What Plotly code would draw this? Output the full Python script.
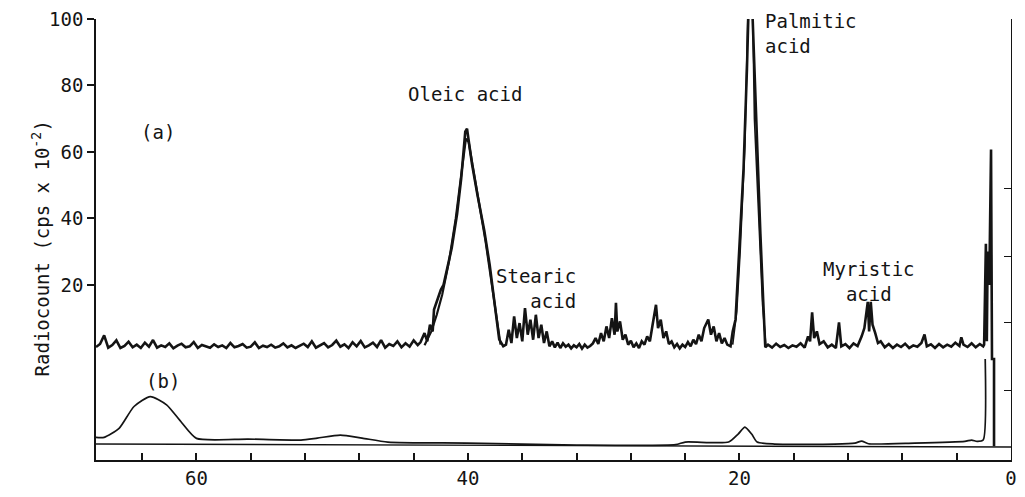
import plotly.graph_objects as go

# ---- trace (a): radio-chromatogram (retention, radiocount) ----
a_base1_x = [67.4, 67.1, 66.8, 66.5, 66.2, 65.9, 65.6, 65.3, 65.0, 64.7,
             64.4, 64.1, 63.8, 63.5, 63.2, 62.9, 62.6, 62.3, 62.0, 61.7,
             61.4, 61.1, 60.8, 60.5, 60.2, 59.9, 59.6, 59.3, 59.0, 58.7,
             58.4, 58.1, 57.8, 57.5, 57.2, 56.9, 56.6, 56.3, 56.0, 55.7,
             55.4, 55.1, 54.8, 54.5, 54.2, 53.9, 53.6, 53.3, 53.0, 52.7,
             52.4, 52.1, 51.8, 51.5, 51.2, 50.9, 50.6, 50.3, 50.0, 49.7,
             49.4, 49.1, 48.8, 48.5, 48.2, 47.9, 47.6, 47.3, 47.0, 46.7,
             46.4, 46.1, 45.8, 45.5, 45.2, 44.9, 44.6, 44.3, 44.0, 43.7]
a_base1_y = [1.3, 2.2, 4.8, 1.1, 1.9, 3.3, 1.0, 1.6, 2.9, 1.2,
             2.0, 1.0, 2.6, 1.4, 3.4, 1.1, 1.8, 1.3, 2.4, 0.9,
             1.7, 2.3, 1.2, 1.5, 2.8, 1.0, 1.9, 1.4, 1.1, 2.1,
             1.3, 1.8, 1.0, 2.5, 1.2, 1.6, 2.2, 1.1, 1.4, 2.7,
             1.0, 1.7, 1.3, 2.0, 1.1, 1.5, 2.4, 1.2, 1.8, 1.0,
             1.6, 2.3, 1.3, 3.0, 1.1, 1.7, 2.5, 1.2, 1.9, 3.2,
             1.4, 2.1, 1.0, 2.7, 1.5, 3.1, 1.2, 1.8, 2.6, 1.3,
             3.4, 1.1, 2.2, 1.6, 3.0, 1.2, 2.4, 1.4, 3.3, 1.9]

oleic_x = [43.5, 43.2, 43.0, 42.8, 42.6, 42.5, 42.2, 42.0, 41.8, 41.5, 41.2, 40.8, 40.5, 40.2, 40.07,
           39.9, 39.7, 39.3, 38.8, 38.4, 38.1, 37.9, 37.7, 37.4]
oleic_y = [2.7, 5.5, 3.0, 8.0, 6.0, 12.6, 16.0, 18.5, 20.0, 25.4, 31.0, 41.4, 52.0, 66.1, 67.0,
           62.0, 56.3, 47.0, 36.4, 26.0, 16.4, 9.0, 3.6, 1.55]

a_mid_x = [37.2, 37.0, 36.8, 36.6, 36.4, 36.2, 36.0, 35.8, 35.6, 35.4, 35.2, 35.0, 34.8, 34.6, 34.4,
           34.2, 34.0, 33.8, 33.6, 33.4, 33.2, 33.0, 32.8, 32.6, 32.4, 32.2, 32.0, 31.8, 31.6, 31.4,
           31.2, 31.0, 30.8, 30.6, 30.4, 30.2, 30.0, 29.8, 29.6, 29.4, 29.2, 29.1, 29.0, 28.8, 28.6,
           28.4, 28.2, 28.0, 27.8, 27.6, 27.4, 27.2, 27.0, 26.8, 26.6, 26.4, 26.15, 26.0, 25.8, 25.6,
           25.4, 25.2, 25.0, 24.8, 24.6, 24.4, 24.2, 24.0, 23.8, 23.6, 23.4, 23.2, 23.0, 22.8, 22.6,
           22.3, 22.1, 21.9, 21.7, 21.5, 21.3, 21.1, 20.9]
a_mid_y = [2.0, 6.5, 2.5, 10.5, 4.0, 8.5, 3.0, 13.0, 5.0, 9.5, 3.5, 11.0, 4.0, 8.0, 2.5,
           6.0, 1.5, 3.0, 1.2, 2.6, 1.0, 2.4, 1.4, 2.0, 0.9, 1.8, 1.2, 2.2, 0.8, 2.0,
           1.1, 1.6, 2.4, 4.0, 2.2, 5.5, 3.0, 7.5, 4.0, 10.0, 5.0, 14.6, 6.0, 9.0, 3.5,
           5.0, 2.0, 3.2, 1.2, 2.4, 1.0, 3.0, 2.0, 4.5, 3.0, 8.0, 14.0, 7.0, 9.5, 4.0,
           6.0, 2.2, 3.0, 1.2, 2.2, 0.9, 2.0, 1.3, 2.8, 1.5, 3.5, 2.2, 5.0, 3.0, 7.0,
           9.6, 5.0, 7.5, 3.0, 5.5, 2.4, 4.0, 2.0]

palmitic_x = [20.66, 20.5, 20.29, 20.07, 19.7, 19.45, 19.3, 19.1, 18.83, 18.46, 18.25, 18.1]
palmitic_y = [1.5, 6.0, 9.6, 25.4, 55.1, 85.0, 108.0, 108.0, 75.0, 35.4, 15.0, 1.25]

a_end_x = [17.9, 17.6, 17.3, 17.0, 16.7, 16.4, 16.1, 15.8, 15.5, 15.2, 14.95, 14.8, 14.65, 14.5, 14.3,
           14.1, 13.8, 13.5, 13.2, 12.9, 12.67, 12.5, 12.2, 11.9, 11.6, 11.3, 11.0, 10.8, 10.55, 10.45,
           10.33, 10.2, 10.0, 9.8, 9.6, 9.3, 9.0, 8.7, 8.4, 8.1, 7.8, 7.5, 7.2, 6.9, 6.6,
           6.37, 6.2, 5.9, 5.6, 5.3, 5.0, 4.7, 4.4, 4.1, 3.8, 3.66, 3.5, 3.2, 2.9, 2.6,
           2.3, 2.05, 1.98, 1.85, 1.78, 1.72, 1.6, 1.47, 1.40, 1.25, 1.25]
a_end_y = [2.0, 1.1, 2.3, 1.3, 1.9, 1.0, 1.8, 1.4, 2.4, 1.1, 4.5, 3.0, 11.7, 4.0, 6.0,
           2.2, 3.0, 1.2, 2.0, 1.0, 8.7, 1.5, 2.2, 1.0, 2.4, 1.6, 4.5, 7.0, 14.9, 6.0,
           14.9, 8.0, 5.5, 2.5, 3.0, 1.2, 2.2, 1.0, 2.0, 1.3, 2.3, 1.0, 1.8, 1.4, 2.5,
           5.1, 1.5, 2.1, 1.0, 2.2, 1.2, 2.0, 1.4, 2.6, 1.6, 4.2, 2.0, 1.3, 2.4, 1.2,
           2.2, 1.5, 2.0, 32.4, 3.0, 30.0, 20.0, 60.7, -2.3, -2.3, -28.6]

# overlapping second scan visible on the big peaks
oleic2_x = [43.2, 42.7, 42.3, 41.9, 41.4, 40.9, 40.5, 40.15, 39.95, 39.6, 39.2, 38.7, 38.3, 37.9, 37.6]
oleic2_y = [1.8, 6.0, 11.0, 17.0, 27.0, 40.0, 53.0, 64.0, 63.0, 55.0, 45.0, 33.0, 22.0, 10.0, 2.0]
palm2_x = [20.5, 20.2, 19.95, 19.6, 19.35, 19.05, 18.9, 18.6, 18.3, 18.05]
palm2_y = [2.0, 12.0, 30.0, 62.0, 108.0, 108.0, 70.0, 42.0, 14.0, 1.5]

# ---- trace (b): detector trace, drawn below ----
b_x = [67.47, 66.8, 65.7, 64.6, 63.4, 62.2, 61.1, 60.0, 56.2, 52.3, 51.1, 49.4, 47.8, 45.9, 40.1,
       32.0, 24.7, 24.0, 20.8, 20.1, 19.6, 19.1, 18.7, 17.4, 13.0, 11.5, 11.0, 10.5, 7.1, 3.4,
       2.9, 2.5, 2.05, 1.9]
b_y = [-25.9, -25.9, -23.2, -16.6, -13.6, -16.1, -21.4, -26.2, -26.4, -26.7, -26.1, -25.2, -26.1, -27.3, -27.6,
       -28.2, -28.1, -27.3, -27.3, -24.9, -22.8, -24.9, -27.3, -27.9, -27.9, -27.6, -27.0, -27.8, -27.6, -27.1,
       -26.7, -27.1, -26.7, -2.3]

# baseline of trace (b)
base_x = [67.4, 0.0]
base_y = [-27.9, -28.8]

x_ticks = [0, 20, 40, 60]
x_labels = ["0", "20", "40", "60"]
y_ticks = [20, 40, 60, 80, 100]
y_labels = ["20", "40", "60", "80", "100"]
right_ticks = [-11.8, 8.7, 28.6, 48.9]

ink = "#141414"
font = "DejaVu Sans Mono"

a_x = a_base1_x + oleic_x + a_mid_x + palmitic_x + a_end_x
a_y = a_base1_y + oleic_y + a_mid_y + palmitic_y + a_end_y

fig = go.Figure()
fig.add_trace(go.Scatter(x=a_x, y=a_y, mode="lines", line=dict(color=ink, width=2.6), showlegend=False))
fig.add_trace(go.Scatter(x=oleic2_x, y=oleic2_y, mode="lines", line=dict(color=ink, width=2.2), showlegend=False))
fig.add_trace(go.Scatter(x=palm2_x, y=palm2_y, mode="lines", line=dict(color=ink, width=1.6), showlegend=False))
fig.add_trace(go.Scatter(x=b_x, y=b_y, mode="lines", line=dict(color=ink, width=1.7, shape="spline", smoothing=0.6),
                         showlegend=False))
fig.add_trace(go.Scatter(x=base_x, y=base_y, mode="lines", line=dict(color=ink, width=1.4), showlegend=False,
                         yaxis="y2"))

ann = [
    dict(text="Oleic acid", x=40.2, y=77.5, xanchor="center", yanchor="middle"),
    dict(text="Stearic<br>acid", x=31.9, y=19, xanchor="right", yanchor="middle", align="right"),
    dict(text="Palmitic<br>acid", x=18.3, y=95.5, xanchor="left", yanchor="middle", align="left"),
    dict(text="Myristic<br>acid", x=10.45, y=21, xanchor="center", yanchor="middle", align="center"),
    dict(text="(a)", x=62.8, y=66, xanchor="center", yanchor="middle"),
    dict(text="(b)", x=62.5, y=-9, xanchor="center", yanchor="middle"),
]
annotations = []
for a in ann:
    a.update(xref="x", yref="y", showarrow=False, font=dict(family=font, size=19, color=ink))
    annotations.append(a)
annotations.append(dict(text="Radiocount (cps x 10<sup>-2</sup>)", xref="paper", yref="paper", x=-0.06, y=0.48,
                        xanchor="center", yanchor="middle", textangle=-90, showarrow=False,
                        font=dict(family=font, size=19, color=ink)))

fig.update_layout(
    width=1025, height=497,
    margin=dict(l=96, r=8, t=16, b=34),
    paper_bgcolor="white", plot_bgcolor="white",
    annotations=annotations,
    xaxis=dict(range=[67.4, 0], tickvals=x_ticks, ticktext=x_labels, ticks="inside", ticklen=7,
               tickwidth=1.5, tickcolor=ink, showline=True, linecolor=ink, linewidth=1.6,
               minor=dict(tick0=0, dtick=4, ticks="inside", ticklen=7, tickwidth=1.5, tickcolor=ink, showgrid=False),
               showgrid=False, zeroline=False, tickfont=dict(family=font, size=19, color=ink)),
    yaxis=dict(range=[-32.7, 100], tickvals=y_ticks, ticktext=y_labels, ticks="outside", ticklen=7,
               tickwidth=1.5, tickcolor=ink, showline=True, linecolor=ink, linewidth=1.6,
               showgrid=False, zeroline=False, tickfont=dict(family=font, size=19, color=ink)),
    yaxis2=dict(range=[-32.7, 100], overlaying="y", side="right", tickvals=right_ticks, ticks="inside",
                ticklen=7, tickwidth=1.3, tickcolor=ink, showticklabels=False, showline=True,
                linecolor=ink, linewidth=1.4, showgrid=False, zeroline=False),
)

fig.write_html("out.html")
